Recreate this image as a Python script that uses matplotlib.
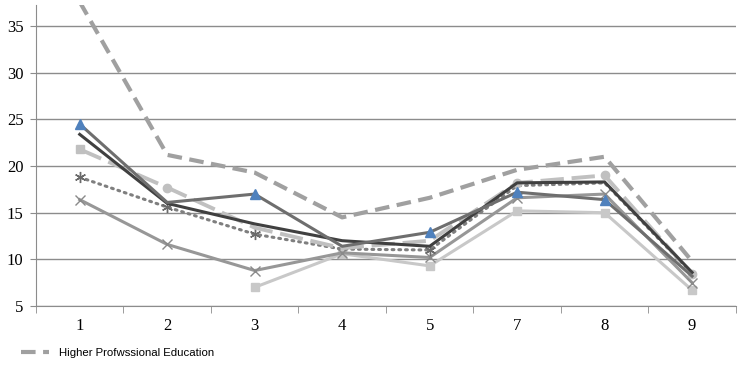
import numpy as np
import matplotlib.pyplot as plt

# categories on the x axis (6 is missing in the source)
cats = ['1', '2', '3', '4', '5', '7', '8', '9']

# series values
higher_prof = [37.6, 21.2, 19.3, 14.5, 16.6, 19.6, 21.0, 9.8]
s_triangle = [24.5, 16.1, 17.0, 11.4, 12.9, 17.2, 16.4, 8.2]
s_dark = [23.4, 16.0, 13.8, 12.0, 11.4, 18.2, 18.3, 8.6]
s_lightdash = [21.8, 17.7, 13.4, 11.2, 12.0, 18.2, 19.0, 8.4]
s_dotted = [18.8, 15.6, 12.7, 11.1, 11.0, 17.9, 18.2, 8.5]
s_cross = [16.4, 11.6, 8.8, 10.7, 10.2, 16.6, 17.0, 7.5]
s_lightest = [np.nan, np.nan, 7.0, 10.6, 9.3, 15.2, 15.0, 6.7]

legend_label = 'Higher Profwssional Education'

x = np.arange(len(cats))

fig = plt.figure(figsize=(7.39, 3.70), dpi=100)
ax = fig.add_axes([0.0487, 0.173, 0.947, 0.813])

lw = 2.2
ax.plot(x, s_lightest, color='#c8c8c8', lw=lw, marker='s', ms=5.5,
        mfc='#c8c8c8', mec='#c8c8c8', zorder=3)
ax.plot(x, s_cross, color='#979797', lw=lw, marker='x', ms=7,
        mec='#8a8a8a', mew=1.0, zorder=3)
ax.plot(x, s_dotted, color='#7f7f7f', lw=lw, ls=(0, (0.6, 1.6)),
        dash_capstyle='round', marker=(6, 2, 0), ms=8, mec='#6a6a6a',
        mew=1.0, markevery=[0, 1, 2, 4], zorder=3)
ax.plot(x, s_lightdash, color='#c0c0c0', lw=lw + 0.6, ls=(0, (6, 2)),
        zorder=3)
ax.plot(x[:1], s_lightdash[:1], ls='none', marker='s', ms=6,
        mfc='#c0c0c0', mec='#c0c0c0', zorder=3)
ax.plot(x[1:], s_lightdash[1:], ls='none', marker='o', ms=6,
        mfc='#c0c0c0', mec='#c0c0c0', markevery=[0, 4, 5, 6], zorder=3)
ax.plot(x, s_dark, color='#404040', lw=lw, zorder=3)
ax.plot(x, s_triangle, color='#6e6e6e', lw=lw, marker='^', ms=6.5,
        mfc='#4f81bd', mec='#4f81bd', markevery=[0, 2, 4, 5, 6], zorder=3)
hp, = ax.plot(x, higher_prof, color='#a0a0a0', lw=lw + 0.8,
              ls=(0, (3.5, 1.8)), zorder=4, label=legend_label)

ax.set_xlim(-0.5, len(cats) - 0.5)
ax.set_ylim(5, 37.25)
ax.set_yticks([5, 10, 15, 20, 25, 30, 35])
ax.set_xticks(x)
ax.set_xticklabels(cats)
ax.set_xticks(np.arange(-0.5, len(cats)), minor=True)

ax.grid(axis='y', color='#8c8c8c', lw=1.0)
ax.set_axisbelow(True)
for side in ['top', 'right']:
    ax.spines[side].set_visible(False)
ax.spines['left'].set_color('#8c8c8c')
ax.spines['bottom'].set_color('#8c8c8c')

ax.tick_params(axis='x', which='major', length=0, pad=9)
ax.tick_params(axis='x', which='minor', length=5, color='#8c8c8c')
ax.tick_params(axis='y', length=4, color='#8c8c8c', pad=5)
for lab in ax.get_xticklabels() + ax.get_yticklabels():
    lab.set_fontfamily('Liberation Serif')
    lab.set_fontsize(12)

fig.legend(handles=[hp], loc='lower left', bbox_to_anchor=(0.015, 0.005),
           frameon=False, handlelength=2.4, handletextpad=0.9,
           prop={'family': ['Liberation Sans Narrow', 'Liberation Sans'], 'size': 8.2})

fig.savefig('out.png', dpi=100)
